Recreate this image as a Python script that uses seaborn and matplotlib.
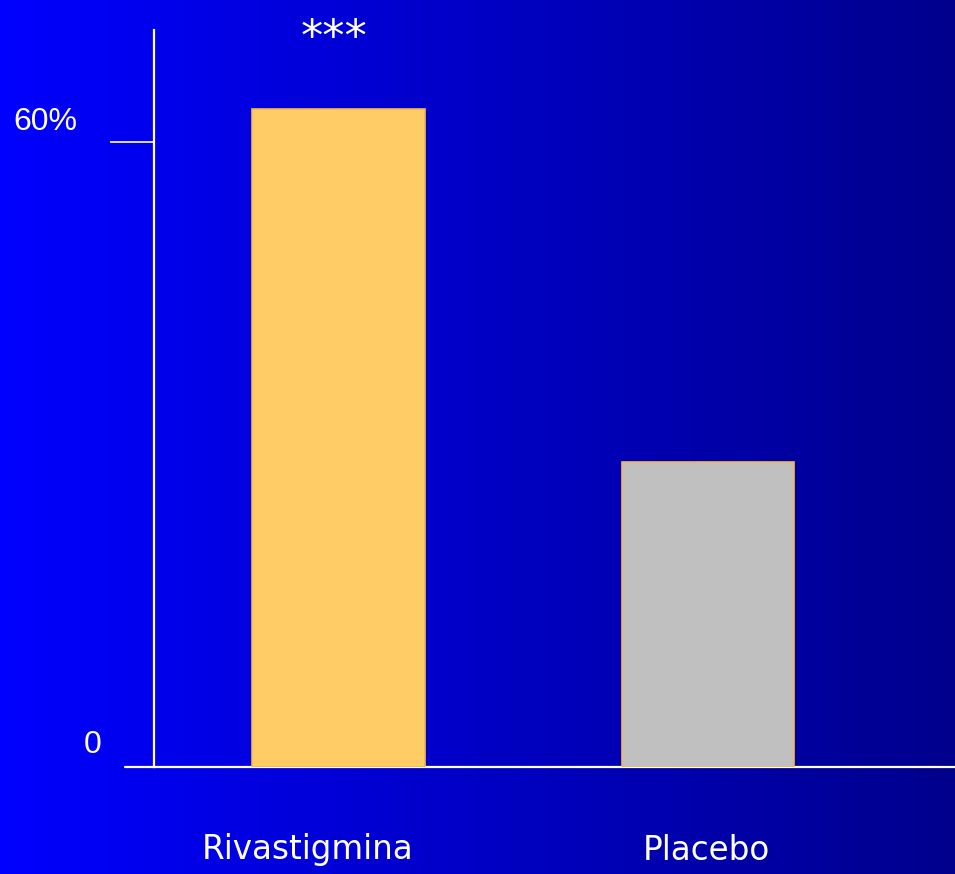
import numpy as np
import matplotlib
matplotlib.use("Agg")
import matplotlib.pyplot as plt
import seaborn as sns

categories = ["Rivastigmina", "Placebo"]
values = [63.2, 29.3]
bar_colors = ["#FFCC66", "#C0C0C0"]
tick_labels = ["0", "60%"]
significance = "***"

W, H = 955, 874
sns.set_theme(style="white")
fig = plt.figure(figsize=(W / 100, H / 100), dpi=100)

# horizontal blue gradient backdrop
bg = fig.add_axes([0, 0, 1, 1], zorder=-10)
t = np.linspace(0, 1, 512)
left = np.array([0.0, 0.0, 1.0])
right = np.array([0.0, 0.0, 0.55])
grad = left[None, :] * (1 - t[:, None]) + right[None, :] * t[:, None]
bg.imshow(grad[None, :, :], aspect="auto", extent=[0, 1, 0, 1])
bg.set_axis_off()

# plotting area: y axis at x=154px, baseline at y=767px, top at y=30px
ax_l, ax_b, ax_t = 154, 767, 30
ax = fig.add_axes([ax_l / W, (H - ax_b) / H, (W - ax_l) / W, (ax_b - ax_t) / H])
ax.patch.set_alpha(0)

sns.barplot(x=categories, y=values, hue=categories, palette=bar_colors,
            width=0.468, edgecolor="#F5B94A", linewidth=1.2, legend=False,
            saturation=1, ax=ax, zorder=3)

px_per_unit = 625 / 60
ax.set_ylim(0, (ax_b - ax_t) / px_per_unit)
xu = 369.5
ax.set_xlim(-(338.5 - ax_l) / xu, 1 + (W - 708) / xu)

for s in ["top", "right", "bottom"]:
    ax.spines[s].set_visible(False)
ax.spines["left"].set_color("white")
ax.spines["left"].set_linewidth(1.6)
ax.spines["left"].set_zorder(1)

ax.set_yticks([60])
ax.tick_params(axis="y", direction="out", length=44 * 0.72, width=1.2,
               color="white", labelleft=False, left=True)
ax.set_xticks([])
ax.set_xlabel("")
ax.set_ylabel("")

# baseline reaching a little left of the y axis
ax.plot([-(ax_l - 125) / (W - ax_l), 1], [0, 0], color="white", lw=1.6,
        transform=ax.get_yaxis_transform(), clip_on=False, zorder=1)


def fig_text(x, y, s, **kw):
    fig.text(x / W, 1 - y / H, s, ha="center", va="center", color="white", **kw)


fig_text(45, 122, tick_labels[1], fontsize=23, family="Liberation Sans")
fig_text(93, 745, tick_labels[0], fontsize=23, family="Liberation Sans")
fig_text(334, 38, significance, fontsize=32, family="DejaVu Sans")
fig_text(308, 850, categories[0], fontsize=23.5, family="DejaVu Sans")
fig_text(706, 850, categories[1], fontsize=23.5, family="DejaVu Sans")

fig.savefig("out.png", dpi=100)
